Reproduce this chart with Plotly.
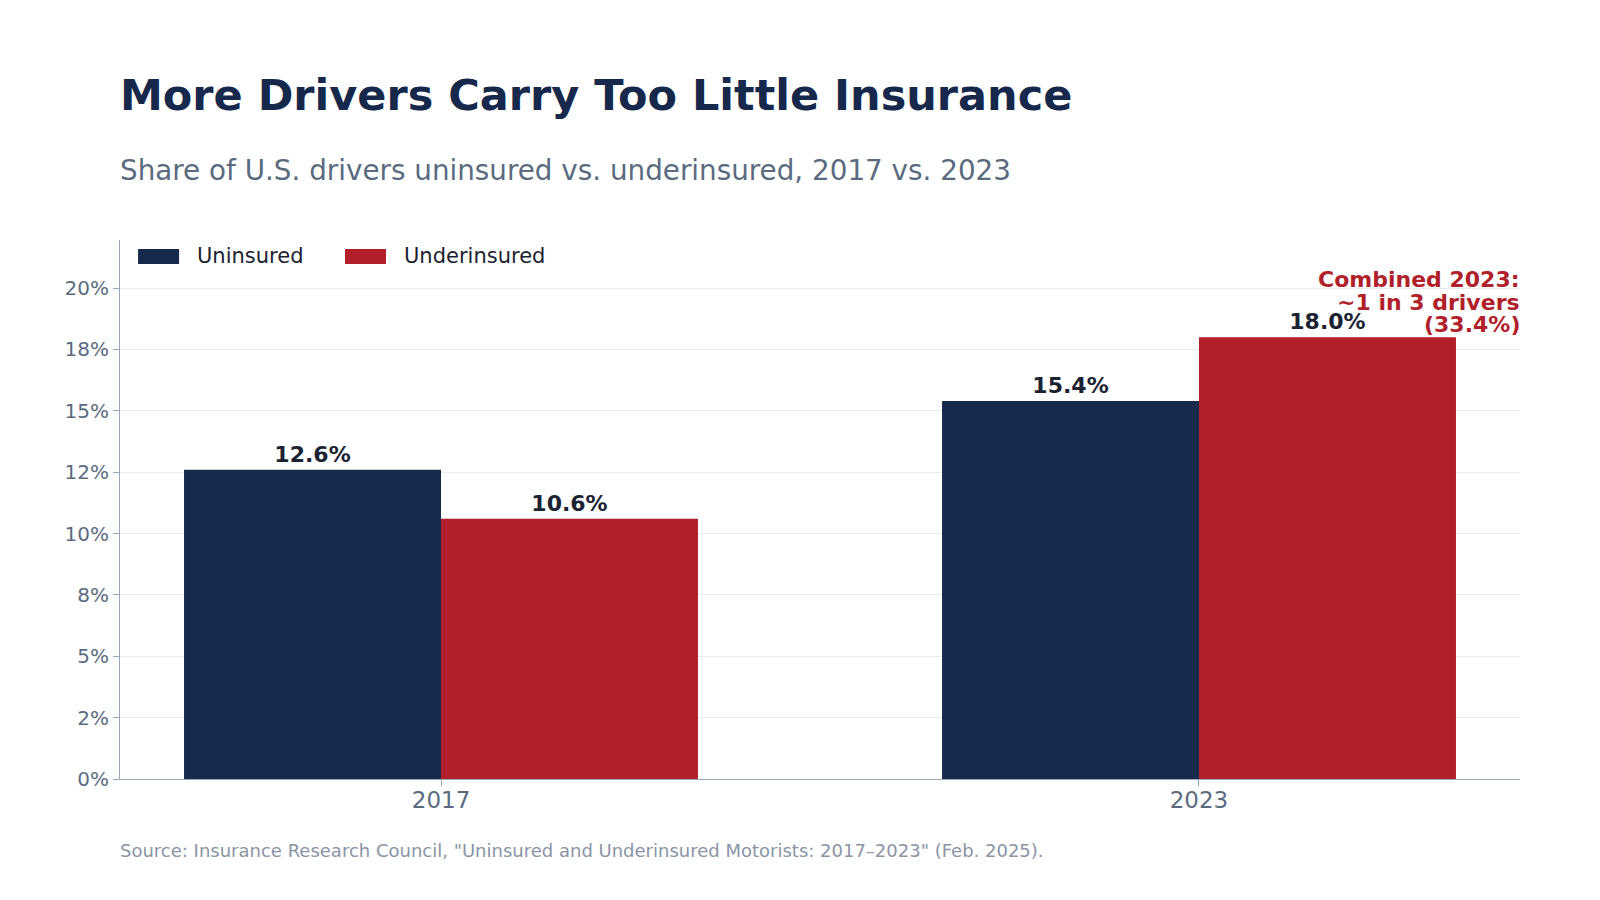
import plotly.graph_objects as go

years = ["2017", "2023"]
uninsured = [12.6, 15.4]
underinsured = [10.6, 18.0]
series_names = ["Uninsured", "Underinsured"]
ytick_vals = [0, 2.5, 5, 7.5, 10, 12.5, 15, 17.5, 20]
ytick_text = ["0%", "2%", "5%", "8%", "10%", "12%", "15%", "18%", "20%"]

NAVY = "#17294C"
RED = "#B11F2B"
LABEL = "#1B2333"
SLATE = "#5A6B80"
FONT = "DejaVu Sans"
colors = [NAVY, RED]

fig = go.Figure()
for name, vals, col in [(series_names[0], uninsured, NAVY), (series_names[1], underinsured, RED)]:
    fig.add_trace(go.Bar(
        x=years, y=vals, name=name, marker=dict(color=col, line=dict(width=0)),
        texttemplate="<b>%{y:.1f}%</b>", textposition="outside",
        textfont=dict(family=FONT, size=22, color=LABEL), cliponaxis=False,
        hoverinfo="skip", showlegend=False,
    ))

combined = uninsured[1] + underinsured[1]
lines = ["Combined 2023:", "~1 in 3 drivers", f"({combined:.1f}%)"]
annotations = []
for i, t in enumerate(lines):
    annotations.append(dict(
        xref="paper", yref="y", x=1, y=max(underinsured), xanchor="right", yanchor="bottom",
        xshift=2, yshift=(len(lines) - 1 - i) * 22.5 - 2, text=f"<b>{t}</b>", showarrow=False,
        align="right", font=dict(family=FONT, size=22, color=RED),
    ))

annotations += [
    dict(xref="paper", yref="paper", x=0, y=1.269, xanchor="left", yanchor="middle", xshift=-2,
         text="<b>More Drivers Carry Too Little Insurance</b>", showarrow=False,
         font=dict(family=FONT, size=43, color="#16284B")),
    dict(xref="paper", yref="paper", x=0, y=1.129, xanchor="left", yanchor="middle", xshift=-2,
         text="Share of U.S. drivers uninsured vs. underinsured, 2017 vs. 2023", showarrow=False,
         font=dict(family=FONT, size=27.8, color=SLATE)),
    dict(xref="paper", yref="paper", x=0, y=-0.132, xanchor="left", yanchor="middle", xshift=-2,
         text="Source: Insurance Research Council, \"Uninsured and Underinsured Motorists: 2017\u20132023\" (Feb. 2025).",
         showarrow=False, font=dict(family=FONT, size=18, color="#8A94A6")),
]

# custom legend (swatch + label) in paper coordinates
legend_x = [0.0129, 0.1607]
swatch_w = 0.0293
shapes = []
for name, col, lx in zip(series_names, colors, legend_x):
    shapes.append(dict(type="rect", xref="paper", yref="paper", x0=lx, x1=lx + swatch_w,
                       y0=0.9555, y1=0.9833, fillcolor=col, line=dict(width=0)))
    annotations.append(dict(xref="paper", yref="paper", x=lx + swatch_w + 0.0114, y=0.9694,
                            xanchor="left", yanchor="middle", text=name, showarrow=False,
                            font=dict(family=FONT, size=21, color="#1C2130")))

fig.update_layout(
    width=1600, height=900,
    margin=dict(l=120, r=80, t=240, b=121),
    paper_bgcolor="white", plot_bgcolor="white",
    font=dict(family=FONT, color=SLATE),
    barmode="group", bargap=0.322, bargroupgap=0,
    showlegend=False,
    annotations=annotations,
    shapes=shapes,
    xaxis=dict(type="category", range=[-0.4235, 1.4235], showline=True, linecolor="#9AA7B8",
               linewidth=1, ticks="outside", ticklen=6, tickcolor="#9AA7B8",
               ticklabelstandoff=-6,
               tickfont=dict(family=FONT, size=23, color=SLATE), showgrid=False),
    yaxis=dict(range=[0, max(underinsured) * 1.22], tickvals=ytick_vals, ticktext=ytick_text,
               showline=True, linecolor="#9AA7B8", linewidth=1, ticks="outside", ticklen=6,
               tickcolor="#9AA7B8", gridcolor="#E8ECF1", zeroline=False,
               tickfont=dict(family=FONT, size=20, color=SLATE)),
)

fig.write_html("out.html")
